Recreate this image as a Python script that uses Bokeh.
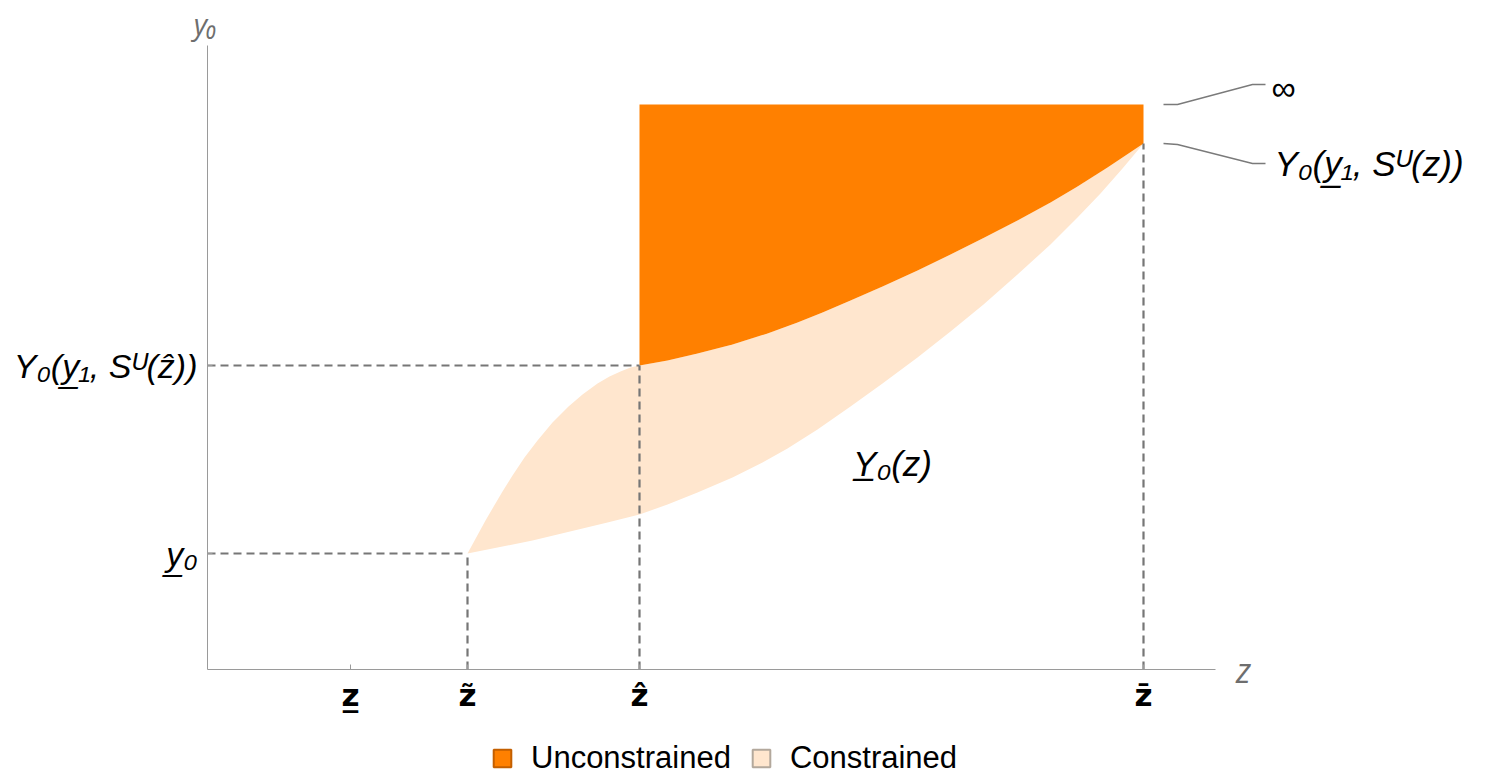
from bokeh.plotting import figure
from bokeh.models import Range1d, FixedTicker, Legend, LegendItem
from bokeh.core.properties import value
from bokeh.embed import file_html
from bokeh.resources import INLINE

# ---------------- data ----------------
z_ticks = [1.43, 2.60, 4.32, 9.36]
z_tick_labels = ["z\u0332", "z\u0303", "\u1e91", "z\u0304"]
y_ticks = [1.16, 3.04]
y_tick_labels = ["y\u0332\u2080", "Y\u2080(y\u0332\u2081, S\u1d41(\u1e91))"]
y_inf = 5.65
y_top = 5.26
z_axis_end = 10.08
y_axis_end = 6.24

# upper boundary of the constrained set between z~ and z^
left_z = [2.60, 2.66, 2.72, 2.78, 2.85, 2.95, 3.05, 3.17, 3.30, 3.45, 3.61, 3.75, 3.90, 4.02, 4.13, 4.23, 4.32]
left_y = [1.16, 1.27, 1.38, 1.49, 1.61, 1.78, 1.94, 2.12, 2.29, 2.47, 2.63, 2.75, 2.86, 2.93, 2.98, 3.02, 3.04]
# lower boundary of the unconstrained set (z^ .. z-bar)
upper_z = [4.32, 4.60, 4.90, 5.25, 5.60, 5.90, 6.15, 6.43, 6.75, 7.10, 7.43, 7.75, 8.10, 8.43, 8.70, 9.00, 9.36]
upper_y = [3.04, 3.09, 3.16, 3.25, 3.36, 3.47, 3.57, 3.69, 3.83, 3.99, 4.15, 4.31, 4.49, 4.67, 4.83, 5.02, 5.26]
# lower boundary Y_0(z)
lower_z = [2.60, 2.80, 3.00, 3.25, 3.50, 3.75, 4.00, 4.32, 4.60, 4.90, 5.25, 5.55, 5.80,
           6.10, 6.43, 6.75, 7.10, 7.43, 7.76, 8.10, 8.43, 8.70, 8.93, 9.15, 9.36]
lower_y = [1.16, 1.20, 1.24, 1.29, 1.35, 1.41, 1.47, 1.55, 1.65, 1.77, 1.92, 2.07, 2.21,
           2.40, 2.63, 2.86, 3.12, 3.38, 3.65, 3.95, 4.25, 4.52, 4.76, 5.01, 5.26]

series_names = ["Unconstrained", "Constrained"]
annot_right = ["\u221e", "Y\u2080(y\u0332\u2081, S\u1d41(z))"]
curve_label = "Y\u0332\u2080(z)"
axis_names = ["z", "y\u2080"]

# ---------------- styles ----------------
ORANGE = "#FF8000"
LIGHT = "#FFE6CE"
GRAY_DASH = "#767676"
AXIS_GRAY = "#9a9a9a"
NAN = float("nan")

z_low, z_tilde, z_hat, z_bar = z_ticks
y_low, y_hat = y_ticks

W, H = 1480, 776
x_start, y_start = -2.07, -1.07
p = figure(width=W, height=H, output_backend="svg", toolbar_location=None,
           x_range=Range1d(x_start, x_start + W / 100.0),
           y_range=Range1d(y_start, y_start + H / 100.0),
           min_border=0, outline_line_color=None)
p.grid.visible = False

# axes through the origin
xa = p.xaxis[0]
xa.fixed_location = 0
xa.bounds = (0, z_axis_end)
xa.ticker = FixedTicker(ticks=z_ticks)
xa.major_label_overrides = dict(zip(z_ticks, z_tick_labels))
xa.axis_line_color = AXIS_GRAY
xa.major_tick_line_color = AXIS_GRAY
xa.minor_tick_line_color = None
xa.major_tick_in = 5
xa.major_tick_out = 0
xa.major_label_standoff = 7
xa.major_label_text_font = "DejaVu Sans"
xa.major_label_text_font_style = "bold"
xa.major_label_text_font_size = "31px"
xa.major_label_text_color = "black"

ya = p.yaxis[0]
ya.fixed_location = 0
ya.bounds = (0, y_axis_end)
ya.ticker = FixedTicker(ticks=y_ticks)
ya.major_label_overrides = dict(zip(y_ticks, y_tick_labels))
ya.axis_line_color = AXIS_GRAY
ya.major_tick_line_color = AXIS_GRAY
ya.minor_tick_line_color = None
ya.major_tick_in = 5
ya.major_tick_out = 0
ya.major_label_standoff = 10
ya.major_label_text_font = "Liberation Sans"
ya.major_label_text_font_style = "italic"
ya.major_label_text_font_size = "34px"
ya.major_label_text_color = "black"

# regions
c_x = left_z + upper_z[1:] + lower_z[::-1][1:]
c_y = left_y + upper_y[1:] + lower_y[::-1][1:]
p.patch(c_x, c_y, fill_color=LIGHT, line_color=None)

u_x = upper_z + [upper_z[-1], upper_z[0]]
u_y = upper_y + [y_inf, y_inf]
p.patch(u_x, u_y, fill_color=ORANGE, line_color=None)

# dashed guides
p.segment(x0=[0, z_tilde, 0, z_hat, z_bar], y0=[y_low, 0, y_hat, 0, 0],
          x1=[z_tilde, z_tilde, z_hat, z_hat, z_bar], y1=[y_low, y_low, y_hat, y_hat, y_top],
          line_color=GRAY_DASH, line_width=2.2, line_dash="8 5")

# leader lines to right-hand annotations
p.line([z_bar + 0.20, z_bar + 0.34, z_bar + 1.09, z_bar + 1.22],
       [y_inf, y_inf, y_inf + 0.20, y_inf + 0.20], line_color="#7a7a7a", line_width=1.3)
p.line([z_bar + 0.20, z_bar + 0.34, z_bar + 1.09, z_bar + 1.22],
       [y_top, y_top - 0.01, y_top - 0.20, y_top - 0.20], line_color="#7a7a7a", line_width=1.3)

p.text(x=[z_bar + 1.28], y=[y_inf + 0.17], text=[annot_right[0]],
       text_font=value("Liberation Sans"), text_font_size="34px",
       text_align="left", text_baseline="middle", text_color="black")
p.text(x=[z_bar + 1.31], y=[y_top - 0.20], text=[annot_right[1]],
       text_font=value("Liberation Sans"), text_font_style="italic", text_font_size="35px",
       text_align="left", text_baseline="middle", text_color="black")

# curve label
p.text(x=[6.85], y=[2.06], text=[curve_label],
       text_font=value("Liberation Sans"), text_font_style="italic", text_font_size="35px",
       text_align="center", text_baseline="middle", text_color="black")

# axis names
p.text(x=[z_axis_end + 0.28], y=[0.0], text=[axis_names[0]],
       text_font=value("Open Sans"), text_font_style="italic", text_font_size="34px",
       text_align="center", text_baseline="middle", text_color="#6e6e6e")
p.text(x=[-0.02], y=[y_axis_end + 0.22], text=[axis_names[1]],
       text_font=value("Open Sans"), text_font_style="italic", text_font_size="29px",
       text_align="center", text_baseline="middle", text_color="#6e6e6e")

# legend (proxy renderers that draw nothing in the plot)
r_leg_u = p.patch(x=[NAN], y=[NAN], fill_color=ORANGE, line_color="#c35f00", line_width=2)
r_leg_c = p.patch(x=[NAN], y=[NAN], fill_color=LIGHT, line_color="#b3a89c", line_width=2)
legend = Legend(items=[LegendItem(label=series_names[0], renderers=[r_leg_u]),
                       LegendItem(label=series_names[1], renderers=[r_leg_c])],
                orientation="horizontal", location=(491, 0),
                border_line_color=None, background_fill_alpha=0,
                glyph_width=22, glyph_height=22, label_standoff=18, spacing=19,
                padding=0, margin=0,
                label_text_font="Liberation Sans", label_text_font_size="31px",
                label_text_color="black")
p.add_layout(legend)

open("out.html", "w").write(file_html(p, INLINE))
